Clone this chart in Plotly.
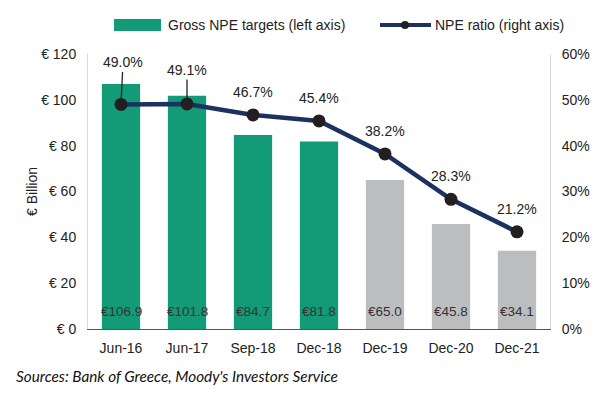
import plotly.graph_objects as go

categories = ["Jun-16", "Jun-17", "Sep-18", "Dec-18", "Dec-19", "Dec-20", "Dec-21"]
npe_targets = [106.9, 101.8, 84.7, 81.8, 65.0, 45.8, 34.1]
npe_ratio = [49.0, 49.1, 46.7, 45.4, 38.2, 28.3, 21.2]
is_target = [False, False, False, False, True, True, True]
left_ticks = [0, 20, 40, 60, 80, 100, 120]
left_tick_labels = ["€ 0", "€ 20", "€ 40", "€ 60", "€ 80", "€ 100", "€ 120"]
right_ticks = [0, 10, 20, 30, 40, 50, 60]
right_tick_labels = ["0%", "10%", "20%", "30%", "40%", "50%", "60%"]

GREEN = "#139A77"
GRAY = "#BCBDBF"
NAVY = "#1B3160"
FONT = "Liberation Sans"

L, R, T, B = 88, 51, 54, 64
W, H = 601, 393
pw, ph = W - L - R, H - T - B


def px_x(p):
    return (p - L) / pw


def px_y(p):
    return (H - B - p) / ph


bar_colors = [GRAY if t else GREEN for t in is_target]

fig = go.Figure()
fig.add_trace(go.Bar(
    x=categories, y=npe_targets, marker=dict(color=bar_colors, line=dict(width=0)),
    width=0.58, showlegend=False, hoverinfo="skip", yaxis="y",
))
fig.add_trace(go.Scatter(
    x=categories, y=npe_ratio, yaxis="y2", mode="lines+markers",
    line=dict(color=NAVY, width=4.5),
    marker=dict(color="#231F20", size=13),
    showlegend=False, hoverinfo="skip",
))

annotations = []
for c, v in zip(categories, npe_targets):
    annotations.append(dict(
        x=c, y=0, xref="x", yref="y", text=f"€{v:.1f}", showarrow=False,
        yanchor="bottom", yshift=8, font=dict(size=13.5, color="#333333", family=FONT),
    ))
offsets = [(2, -42), (0, -34), None, None, None, None, None]
for c, v, off in zip(categories, npe_ratio, offsets):
    if off is not None:
        annotations.append(dict(
            x=c, y=v, xref="x", yref="y2", text=f"{v:.1f}%", showarrow=True,
            arrowhead=0, arrowwidth=1.3, arrowcolor="#222222", ax=off[0], ay=off[1],
            standoff=0, font=dict(size=14, color="#222222", family=FONT),
        ))
    else:
        annotations.append(dict(
            x=c, y=v, xref="x", yref="y2", text=f"{v:.1f}%", showarrow=False,
            yshift=23, font=dict(size=14, color="#222222", family=FONT),
        ))

annotations.append(dict(x=px_x(166), y=px_y(25), xref="paper", yref="paper", text="Gross NPE targets (left axis)",
                        showarrow=False, xanchor="left", yanchor="middle",
                        font=dict(size=14, color="#222222", family=FONT)))
annotations.append(dict(x=px_x(433), y=px_y(25), xref="paper", yref="paper", text="NPE ratio (right axis)",
                        showarrow=False, xanchor="left", yanchor="middle",
                        font=dict(size=14, color="#222222", family=FONT)))
annotations.append(dict(x=px_x(14), y=px_y(376), xref="paper", yref="paper",
                        text="<i>Sources: Bank of Greece, Moody's Investors Service</i>",
                        showarrow=False, xanchor="left", yanchor="middle",
                        font=dict(size=15.3, color="#111111", family="Lato")))

shapes = [
    dict(type="rect", xref="paper", yref="paper", x0=px_x(114), x1=px_x(161), y0=px_y(31), y1=px_y(19),
         fillcolor=GREEN, line=dict(width=0)),
    dict(type="line", xref="paper", yref="paper", x0=px_x(380), x1=px_x(431), y0=px_y(25), y1=px_y(25),
         line=dict(color=NAVY, width=4)),
    dict(type="circle", xref="paper", yref="paper", x0=px_x(401), x1=px_x(409),
         y0=px_y(29), y1=px_y(21), fillcolor="#231F20", line=dict(width=0)),
]

fig.update_layout(
    width=W, height=H,
    margin=dict(l=L, r=R, t=T, b=B, autoexpand=False),
    paper_bgcolor="white", plot_bgcolor="white",
    font=dict(family=FONT, size=14, color="#222222"),
    annotations=annotations,
    shapes=shapes,
    xaxis=dict(
        type="category", showgrid=False, showline=True, linecolor="#555555", linewidth=1.2,
        ticks="outside", ticklen=6, tickcolor="rgba(0,0,0,0)", automargin=False,
        tickfont=dict(size=14, color="#222222", family=FONT),
    ),
    yaxis=dict(
        range=[0, 120], tickvals=left_ticks, ticktext=left_tick_labels, automargin=False,
        showgrid=False, showline=True, linecolor="#D9D9D9", linewidth=1, zeroline=False,
        ticks="outside", ticklen=8, tickcolor="rgba(0,0,0,0)",
        tickfont=dict(size=14, color="#222222", family=FONT),
        title=dict(text="€ Billion", font=dict(size=14, color="#222222", family=FONT), standoff=0),
    ),
    yaxis2=dict(
        range=[0, 60], tickvals=right_ticks, ticktext=right_tick_labels, overlaying="y", side="right",
        showgrid=False, showline=True, linecolor="#D9D9D9", linewidth=1, zeroline=False, automargin=False,
        ticks="outside", ticklen=8, tickcolor="rgba(0,0,0,0)",
        tickfont=dict(size=14, color="#222222", family=FONT),
    ),
)

fig.write_html("out.html", config={"displayModeBar": False},
               post_script="document.body.style.margin='0';document.body.style.padding='0';")
